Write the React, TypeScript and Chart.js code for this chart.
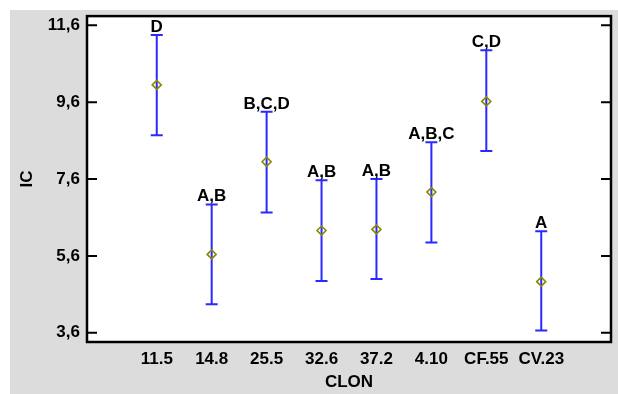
import React, { useEffect, useRef } from 'react';
import { Chart, registerables } from 'chart.js';

Chart.register(...registerables);

const categories = ['11.5', '14.8', '25.5', '32.6', '37.2', '4.10', 'CF.55', 'CV.23'];
const means = [10.05, 5.64, 8.05, 6.26, 6.29, 7.26, 9.62, 4.93];
const lower = [8.74, 4.34, 6.73, 4.95, 5.0, 5.95, 8.33, 3.66];
const upper = [11.35, 6.94, 9.35, 7.57, 7.6, 8.56, 10.95, 6.24];
const groups = ['D', 'A,B', 'B,C,D', 'A,B', 'A,B', 'A,B,C', 'C,D', 'A'];
const yTicks = [3.6, 5.6, 7.6, 9.6, 11.6];

const FONT = '"Liberation Sans", Arial, Helvetica, sans-serif';
const BLUE = '#2a2aff';
const OLIVE = '#8a8a00';

const extras = {
  id: 'extras',
  beforeDraw(chart: any) {
    const { ctx, chartArea, width, height } = chart;
    const { left, right, top, bottom } = chartArea;
    ctx.save();
    ctx.fillStyle = '#dcdcdc';
    ctx.fillRect(0, 0, width, height);
    ctx.fillStyle = '#ffffff';
    ctx.fillRect(left, top, right - left, bottom - top);
    ctx.restore();
  },
  beforeDatasetsDraw(chart: any) {
    const { ctx, scales } = chart;
    const x = scales.x;
    const y = scales.y;
    ctx.save();
    ctx.strokeStyle = BLUE;
    ctx.lineWidth = 2;
    categories.forEach((_, i) => {
      const px = x.getPixelForValue(i);
      const pt = y.getPixelForValue(upper[i]);
      const pb = y.getPixelForValue(lower[i]);
      ctx.beginPath();
      ctx.moveTo(px, pt);
      ctx.lineTo(px, pb);
      ctx.moveTo(px - 6, pt);
      ctx.lineTo(px + 6, pt);
      ctx.moveTo(px - 6, pb);
      ctx.lineTo(px + 6, pb);
      ctx.stroke();
    });
    ctx.restore();
  },
  afterDatasetsDraw(chart: any) {
    const { ctx, scales, chartArea } = chart;
    const { left, right, top, bottom } = chartArea;
    const x = scales.x;
    const y = scales.y;
    ctx.save();
    ctx.fillStyle = '#000';
    ctx.font = `bold 17px ${FONT}`;
    ctx.textAlign = 'center';
    ctx.textBaseline = 'alphabetic';
    categories.forEach((_, i) => {
      const px = x.getPixelForValue(i);
      const pt = y.getPixelForValue(upper[i]);
      ctx.fillText(groups[i], px, pt - 3);
    });
    ctx.strokeStyle = '#000';
    ctx.lineWidth = 2;
    yTicks.forEach((v) => {
      const py = y.getPixelForValue(v);
      ctx.beginPath();
      ctx.moveTo(left, py);
      ctx.lineTo(left + 10, py);
      ctx.moveTo(right - 10, py);
      ctx.lineTo(right, py);
      ctx.stroke();
    });
    ctx.lineWidth = 2.5;
    ctx.strokeRect(left, top, right - left, bottom - top);
    ctx.restore();
  },
};

export default function App() {
  const ref = useRef<HTMLCanvasElement>(null);
  useEffect(() => {
    if (!ref.current) return;
    const chart = new Chart(ref.current, {
      type: 'scatter',
      data: {
        datasets: [
          {
            data: means.map((m, i) => ({ x: i, y: m })),
            pointStyle: 'rectRot',
            pointRadius: 4.5,
            pointBorderColor: OLIVE,
            pointBackgroundColor: 'rgba(0,0,0,0)',
            pointBorderWidth: 1.6,
          },
        ],
      },
      options: {
        animation: false,
        responsive: false,
        events: [],
        layout: { padding: { top: 4, right: 7, left: 0, bottom: 0 } },
        plugins: { legend: { display: false }, tooltip: { enabled: false } },
        scales: {
          x: {
            type: 'linear',
            min: -1.27,
            max: 8.27,
            grid: { display: false, drawTicks: false },
            border: { display: false },
            afterBuildTicks: (s: any) => {
              s.ticks = categories.map((_, i) => ({ value: i }));
            },
            afterFit: (s: any) => {
              s.height = 52;
              s.paddingLeft = 0;
              s.paddingRight = 0;
            },
            ticks: {
              autoSkip: false,
              maxRotation: 0,
              minRotation: 0,
              padding: 7,
              color: '#000',
              font: { family: FONT, size: 17, weight: 'bold' },
              callback: (v: any) => categories[Math.round(Number(v))] ?? '',
            },
            title: {
              display: true,
              text: 'CLON',
              color: '#000',
              font: { family: FONT, size: 17, weight: 'bold' },
              padding: { top: 0, bottom: 1 },
            },
          },
          y: {
            min: 3.36,
            max: 11.84,
            grid: { display: false, drawTicks: false },
            border: { display: false },
            afterBuildTicks: (s: any) => {
              s.ticks = yTicks.map((v) => ({ value: v }));
            },
            afterFit: (s: any) => {
              s.width = 77;
              s.paddingTop = 0;
              s.paddingBottom = 0;
            },
            ticks: {
              padding: 7,
              color: '#000',
              font: { family: FONT, size: 17, weight: 'bold' },
              callback: (v: any) => Number(v).toFixed(1).replace('.', ','),
            },
            title: {
              display: true,
              text: 'IC',
              color: '#000',
              font: { family: FONT, size: 17, weight: 'bold' },
              padding: { top: 7, bottom: 0 },
            },
          },
        },
      },
      plugins: [extras],
    });
    return () => chart.destroy();
  }, []);

  return (
    <div
      style={{
        position: 'absolute',
        left: 10,
        top: 10,
        width: 608,
        height: 384,
        background: '#dcdcdc',
      }}
    >
      <canvas ref={ref} width={608} height={384} style={{ display: 'block' }} />
    </div>
  );
}
